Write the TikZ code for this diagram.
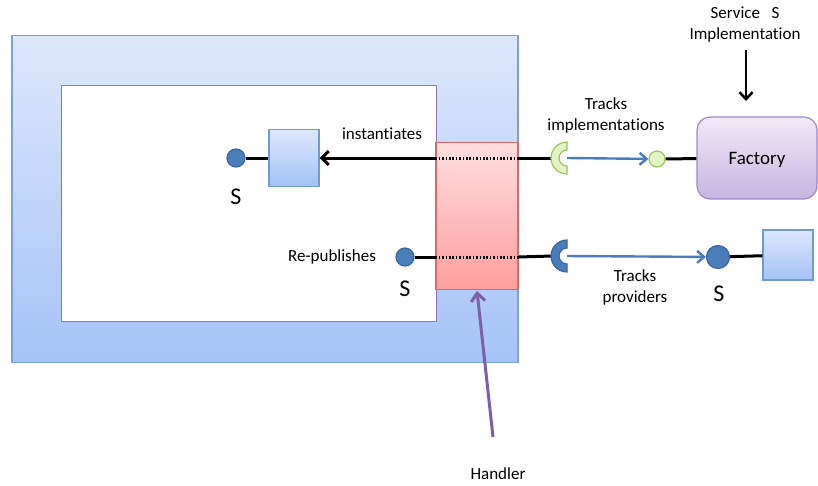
\documentclass[tikz,border=0pt]{standalone}
\usepackage{fontspec}
\setmainfont{Carlito}[Ligatures=NoCommon]
\usetikzlibrary{arrows.meta}
\definecolor{outerT}{HTML}{DDE8FC}
\definecolor{outerB}{HTML}{A5C3F7}
\definecolor{outerD}{HTML}{7AA1D8}
\definecolor{innerD}{HTML}{8F76B3}
\definecolor{redT}{HTML}{FFDEDE}
\definecolor{redB}{HTML}{FF9E9E}
\definecolor{redD}{HTML}{D46A6A}
\definecolor{sqT}{HTML}{DCE8FC}
\definecolor{sqB}{HTML}{A4C2F4}
\definecolor{sqD}{HTML}{6F9AD3}
\definecolor{dotF}{HTML}{4A7EBB}
\definecolor{dotD}{HTML}{3A67A0}
\definecolor{grF}{HTML}{E2F4C4}
\definecolor{grD}{HTML}{9BC55B}
\definecolor{facT}{HTML}{F0EAF7}
\definecolor{facB}{HTML}{C8B4E0}
\definecolor{facD}{HTML}{A088C8}
\definecolor{purp}{HTML}{7D5FA8}
\tikzset{
  lbl/.style={font=\fontsize{17}{21}\selectfont, align=center, inner sep=0pt},
  bigS/.style={font=\fontsize{24}{28}\selectfont, inner sep=0pt},
  sq/.style={draw=sqD, line width=1.2pt, top color=sqT, bottom color=sqB, minimum width=50pt, minimum height=57pt, inner sep=0pt},
  bdot/.style={circle, draw=dotD, line width=1.2pt, fill=dotF, inner sep=0pt},
  wire/.style={line width=3pt, black},
  dotline/.style={line width=3pt, black, dash pattern=on 1.6pt off 1.8pt},
  barrow/.style={line width=2.4pt, dotF, -{Straight Barb[length=7pt,width=12pt]}},
}
\begin{document}
\begin{tikzpicture}[x=1pt,y=-1pt]
\useasboundingbox (0,0) rectangle (818,485);
% boxes
\node[draw=outerD, line width=1.2pt, top color=outerT, bottom color=outerB, minimum width=506pt, minimum height=327pt, inner sep=0pt] (outer) at (265,199) {};
\node[draw=innerD, line width=1.2pt, fill=white, minimum width=375pt, minimum height=236pt, inner sep=0pt] (inner) at (249,203.5) {};
\node[draw=redD, line width=1.2pt, top color=redT, bottom color=redB, minimum width=82pt, minimum height=147pt, inner sep=0pt] (handler) at (477,216) {};
% inner components
\node[sq] (sqA) at (294,158) {};
\node[bdot, minimum size=18pt] (dotA) at (236,158) {};
\node[bigS] (sA) at (236,197) {S};
\node[lbl] (inst) at (382,134) {instantiates};
\node[bdot, minimum size=18pt] (dotR) at (405,257) {};
\node[bigS] (sR) at (405,289) {S};
\node[lbl] (repub) at (332,257) {Re-publishes};
% sockets
\coordinate (cg) at (567,158);
\coordinate (cb) at (567,256);
\coordinate (cgw) at (552,158);
\coordinate (cbw) at (552,256);
% right side
\node[draw=facD, line width=1.2pt, top color=facT, bottom color=facB, rounded corners=13pt, minimum width=120pt, minimum height=82pt, text depth=0pt, font=\fontsize{19}{22}\selectfont] (fac) at (757,158) {Factory};
\node[circle, draw=grD, line width=1.2pt, fill=grF, inner sep=0pt, minimum size=16pt] (gdot) at (657,159) {};
\node[bdot, minimum size=23pt] (dotB) at (718,257) {};
\node[sq, minimum height=50pt] (sqB) at (788,255) {};
\node[bigS] (sB) at (719,294) {S};
\node[lbl] (trImpl) at (606,115) {Tracks\\implementations};
\node[lbl] (trProv) at (635,287) {Tracks\\providers};
\node[lbl] (svc) at (745,25) {Service\ \ \ S\\Implementation};
\node[lbl] (hand) at (498,474) {Handler};
\coordinate (hstart) at (493,437);
\coordinate (htip) at (477,291);
\coordinate (svcA) at (746,50);
\coordinate (svcB) at (746,101);
% wires top
\draw[wire] (dotA) -- (sqA);
\draw[wire, -{Straight Barb[length=7pt,width=14pt]}] (handler.west |- sqA) -- (sqA.east);
\draw[dotline] (handler.west |- sqA) -- (handler.east |- sqA);
\draw[wire] (handler.east |- sqA) -- (cgw);
% wires bottom
\draw[wire] (dotR) -- (handler.west |- dotR);
\draw[dotline] (handler.west |- dotR) -- (handler.east |- dotR);
\draw[wire] (handler.east |- dotR) -- (cbw);
% sockets shapes
\draw[draw=grD, line width=1.2pt, fill=grF] (cg) ++(0,16) arc[start angle=90, end angle=270, radius=16] -- ++(0,8) arc[start angle=270, end angle=90, radius=8] -- cycle;
\draw[draw=dotD, line width=1.2pt, fill=dotF] (cb) ++(0,16) arc[start angle=90, end angle=270, radius=16] -- ++(0,8) arc[start angle=270, end angle=90, radius=8] -- cycle;
% right wires
\draw[barrow] (cg) -- (gdot);
\draw[wire] (gdot) -- (fac);
\draw[barrow] (cb) -- (dotB);
\draw[wire] (dotB) -- (sqB);
% external arrows
\draw[line width=2.5pt, -{Straight Barb[length=7pt,width=13pt]}] (svcA) -- (svcB);
\draw[line width=3pt, purp, -{Straight Barb[length=8pt,width=14pt]}] (hstart) -- (htip);
\end{tikzpicture}
\end{document}
